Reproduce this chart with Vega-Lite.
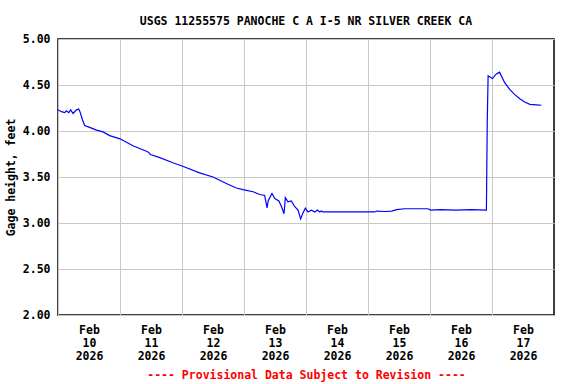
{
  "$schema": "https://vega.github.io/schema/vega-lite/v6.json",
  "width": 496,
  "height": 276,
  "autosize": {"type": "none"},
  "padding": {"left": 58, "top": 39, "right": 22, "bottom": 69},
  "background": "white",
  "config": {
    "font": "DejaVu Sans Mono",
    "view": {"stroke": "black", "strokeWidth": 1.5},
    "axis": {"labelFont": "DejaVu Sans Mono", "labelFontWeight": "bold", "labelFontSize": 11.5, "labelColor": "black", "titleFont": "DejaVu Sans Mono", "titleFontWeight": "bold", "titleFontSize": 11.5, "gridColor": "#c8c8c8", "gridOpacity": 1, "gridWidth": 1, "domain": false, "ticks": false}
  },
  "title": {
    "text": "USGS 11255575 PANOCHE C A I-5 NR SILVER CREEK CA",
    "font": "DejaVu Sans Mono",
    "fontSize": 11.5,
    "fontWeight": "bold",
    "color": "black",
    "anchor": "middle",
    "offset": 6
  },
  "data": {
    "values": [
      {"t": "2026-02-10T00:00:00Z", "v": 4.23},
      {"t": "2026-02-10T01:20:00Z", "v": 4.21},
      {"t": "2026-02-10T02:35:00Z", "v": 4.20},
      {"t": "2026-02-10T03:15:00Z", "v": 4.22},
      {"t": "2026-02-10T04:10:00Z", "v": 4.20},
      {"t": "2026-02-10T04:55:00Z", "v": 4.23},
      {"t": "2026-02-10T05:50:00Z", "v": 4.19},
      {"t": "2026-02-10T07:10:00Z", "v": 4.23},
      {"t": "2026-02-10T08:00:00Z", "v": 4.24},
      {"t": "2026-02-10T08:30:00Z", "v": 4.21},
      {"t": "2026-02-10T09:30:00Z", "v": 4.12},
      {"t": "2026-02-10T10:20:00Z", "v": 4.06},
      {"t": "2026-02-10T12:15:00Z", "v": 4.04},
      {"t": "2026-02-10T14:55:00Z", "v": 4.01},
      {"t": "2026-02-10T17:25:00Z", "v": 3.99},
      {"t": "2026-02-10T20:00:00Z", "v": 3.95},
      {"t": "2026-02-11T00:00:00Z", "v": 3.915},
      {"t": "2026-02-11T05:00:00Z", "v": 3.84},
      {"t": "2026-02-11T10:15:00Z", "v": 3.78},
      {"t": "2026-02-11T11:00:00Z", "v": 3.77},
      {"t": "2026-02-11T11:45:00Z", "v": 3.745},
      {"t": "2026-02-11T15:25:00Z", "v": 3.71},
      {"t": "2026-02-11T20:30:00Z", "v": 3.655},
      {"t": "2026-02-12T00:00:00Z", "v": 3.62},
      {"t": "2026-02-12T06:50:00Z", "v": 3.545},
      {"t": "2026-02-12T12:00:00Z", "v": 3.50},
      {"t": "2026-02-12T17:10:00Z", "v": 3.43},
      {"t": "2026-02-12T21:00:00Z", "v": 3.38},
      {"t": "2026-02-13T00:00:00Z", "v": 3.36},
      {"t": "2026-02-13T03:30:00Z", "v": 3.34},
      {"t": "2026-02-13T06:05:00Z", "v": 3.31},
      {"t": "2026-02-13T08:00:00Z", "v": 3.30},
      {"t": "2026-02-13T08:55:00Z", "v": 3.165},
      {"t": "2026-02-13T09:20:00Z", "v": 3.24},
      {"t": "2026-02-13T10:50:00Z", "v": 3.32},
      {"t": "2026-02-13T11:55:00Z", "v": 3.265},
      {"t": "2026-02-13T13:30:00Z", "v": 3.24},
      {"t": "2026-02-13T14:30:00Z", "v": 3.18},
      {"t": "2026-02-13T15:30:00Z", "v": 3.10},
      {"t": "2026-02-13T16:00:00Z", "v": 3.275},
      {"t": "2026-02-13T17:00:00Z", "v": 3.23},
      {"t": "2026-02-13T18:20:00Z", "v": 3.24},
      {"t": "2026-02-13T19:35:00Z", "v": 3.18},
      {"t": "2026-02-13T20:55:00Z", "v": 3.14},
      {"t": "2026-02-13T21:55:00Z", "v": 3.045},
      {"t": "2026-02-13T22:50:00Z", "v": 3.11},
      {"t": "2026-02-13T23:45:00Z", "v": 3.16},
      {"t": "2026-02-14T00:45:00Z", "v": 3.12},
      {"t": "2026-02-14T02:05:00Z", "v": 3.14},
      {"t": "2026-02-14T03:25:00Z", "v": 3.12},
      {"t": "2026-02-14T04:25:00Z", "v": 3.14},
      {"t": "2026-02-14T05:20:00Z", "v": 3.12},
      {"t": "2026-02-14T05:55:00Z", "v": 3.13},
      {"t": "2026-02-14T06:35:00Z", "v": 3.12},
      {"t": "2026-02-14T12:00:00Z", "v": 3.12},
      {"t": "2026-02-15T02:35:00Z", "v": 3.12},
      {"t": "2026-02-15T03:25:00Z", "v": 3.13},
      {"t": "2026-02-15T06:30:00Z", "v": 3.125},
      {"t": "2026-02-15T09:10:00Z", "v": 3.13},
      {"t": "2026-02-15T11:05:00Z", "v": 3.145},
      {"t": "2026-02-15T14:10:00Z", "v": 3.155},
      {"t": "2026-02-15T23:15:00Z", "v": 3.155},
      {"t": "2026-02-16T00:15:00Z", "v": 3.14},
      {"t": "2026-02-16T04:00:00Z", "v": 3.145},
      {"t": "2026-02-16T10:00:00Z", "v": 3.14},
      {"t": "2026-02-16T16:00:00Z", "v": 3.145},
      {"t": "2026-02-16T21:50:00Z", "v": 3.14},
      {"t": "2026-02-16T22:10:00Z", "v": 4.11},
      {"t": "2026-02-16T22:30:00Z", "v": 4.60},
      {"t": "2026-02-17T00:10:00Z", "v": 4.57},
      {"t": "2026-02-17T01:40:00Z", "v": 4.62},
      {"t": "2026-02-17T02:55:00Z", "v": 4.64},
      {"t": "2026-02-17T04:55:00Z", "v": 4.525},
      {"t": "2026-02-17T06:55:00Z", "v": 4.45},
      {"t": "2026-02-17T08:50:00Z", "v": 4.395},
      {"t": "2026-02-17T10:45:00Z", "v": 4.35},
      {"t": "2026-02-17T12:40:00Z", "v": 4.315},
      {"t": "2026-02-17T14:40:00Z", "v": 4.29},
      {"t": "2026-02-17T17:10:00Z", "v": 4.285},
      {"t": "2026-02-17T19:05:00Z", "v": 4.28}
    ]
  },
  "mark": {"type": "line", "color": "#0000ff", "strokeWidth": 1.2, "interpolate": "linear"},
  "encoding": {
    "x": {
      "field": "t",
      "type": "temporal",
      "scale": {
        "type": "utc",
        "domain": [
          {"year": 2026, "month": 2, "date": 10, "utc": true},
          {"year": 2026, "month": 2, "date": 18, "utc": true}
        ]
      },
      "axis": {
        "values": [
          {"year": 2026, "month": 2, "date": 10, "utc": true},
          {"year": 2026, "month": 2, "date": 11, "utc": true},
          {"year": 2026, "month": 2, "date": 12, "utc": true},
          {"year": 2026, "month": 2, "date": 13, "utc": true},
          {"year": 2026, "month": 2, "date": 14, "utc": true},
          {"year": 2026, "month": 2, "date": 15, "utc": true},
          {"year": 2026, "month": 2, "date": 16, "utc": true},
          {"year": 2026, "month": 2, "date": 17, "utc": true}
        ],
        "labelExpr": "[utcFormat(datum.value, '%b'), utcFormat(datum.value, '%d'), utcFormat(datum.value, '%Y')]",
        "labelOffset": 31,
        "labelPadding": 9,
        "labelLineHeight": 13,
        "labelBaseline": "top",
        "labelOverlap": false,
        "labelFlush": false,
        "labelBound": false,
        "grid": true,
        "title": "---- Provisional Data Subject to Revision ----",
        "titleColor": "#ff0000",
        "titlePadding": 8
      }
    },
    "y": {
      "field": "v",
      "type": "quantitative",
      "scale": {"domain": [2, 5], "nice": false, "zero": false},
      "axis": {
        "values": [2, 2.5, 3, 3.5, 4, 4.5, 5],
        "format": ".2f",
        "labelPadding": 8,
        "grid": true,
        "title": "Gage height, feet",
        "titlePadding": 6
      }
    }
  }
}
